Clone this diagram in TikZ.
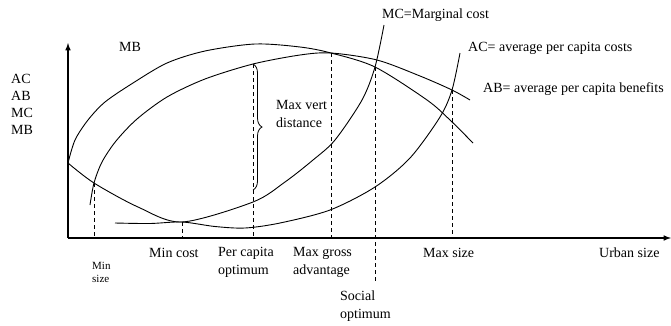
\documentclass[tikz,border=0pt]{standalone}
\usepackage{fontspec}
\setmainfont{Liberation Serif}
\usetikzlibrary{decorations.pathreplacing}

\begin{document}
\begin{tikzpicture}[x=1pt, y=-1pt,
    curve/.style={line width=0.9pt},
    guide/.style={dash pattern=on 4pt off 3pt, line width=0.8pt},
    lbl/.style={inner sep=0pt, anchor=west, align=left, font=\fontsize{14}{18}\selectfont}]
      \useasboundingbox (0,0) rectangle (671,325);
      \coordinate (o) at (68,238);
      \coordinate (ytop) at (68,43);
      \coordinate (xend) at (671,238);
      \coordinate (minsize) at (94,183);
      \coordinate (mincost) at (182,222);
      \coordinate (pcopt) at (253,64);
      \coordinate (maxgross) at (331,53);
      \coordinate (socopt) at (375,67);
      \coordinate (socbot) at (375,282);
      \coordinate (maxsize) at (452,90);
      \draw[line width=1.5pt, -latex] (o) -- (ytop);
      \draw[line width=1.5pt, -latex] (o) -- (xend);
      \draw[curve] plot[smooth] coordinates {(68,163) (75,140) (88,120) (105,102) (133,83) (167,63) (205,51) (255,44) (300,47) (maxgross) (socopt) (427,100) (450,120) (473,143)};
      \draw[curve] plot[smooth] coordinates {(90,205) (minsize) (102,162) (116,141) (137,119) (167,97) (205,79) (pcopt) (300,55) (maxgross) (377,60) (420,76) (maxsize) (470,100)};
      \draw[curve] plot[smooth] coordinates {(68,163) (minsize) (138,207) (mincost) (253,202) (285,182) (313,160) (335,140) (362,100) (socopt) (384,25)};
      \draw[curve] plot[smooth] coordinates {(115,223) (150,223.5) (mincost) (215,226.5) (245,228) (280,223) (330,210) (375,187) (410,158) (440,117) (maxsize) (460,53)};
      \draw[guide] (minsize) -- (minsize |- o);
      \draw[guide] (mincost) -- (mincost |- o);
      \draw[guide] (pcopt) -- (pcopt |- o);
      \draw[guide] (maxgross) -- (maxgross |- o);
      \draw[guide] (socopt) -- (socbot);
      \draw[guide] (maxsize) -- (maxsize |- o);
      \draw[decorate, decoration={brace, amplitude=9pt}, line width=0.8pt] (pcopt) -- (253,190);
      \node (lblaxes)[lbl, font=\fontsize{14}{17}\selectfont] at (11,104) {AC\\AB\\MC\\MB};
      \node (lblmb)[lbl] at (119,47) {MB};
      \node (lblvert)[lbl] at (276,114) {Max vert\\distance};
      \node (lblmc)[lbl] at (382,15) {MC=Marginal cost};
      \node (lblac)[lbl] at (468,48) {AC= average per capita costs};
      \node (lblab)[lbl] at (483,89) {AB= average per capita benefits};
      \node (lblminsize)[lbl, font=\fontsize{11}{13}\selectfont] at (92,272) {Min\\size};
      \node (lblmincost)[lbl] at (149,253) {Min cost};
      \node (lblpcopt)[lbl] at (218,262) {Per capita\\optimum};
      \node (lblmaxgross)[lbl] at (293,262) {Max gross\\advantage};
      \node (lblsocopt)[lbl] at (340,306) {Social\\optimum};
      \node (lblmaxsize)[lbl] at (423,253) {Max size};
      \node (lblurban)[lbl] at (599,253) {Urban size};
    \end{tikzpicture}
\end{document}
